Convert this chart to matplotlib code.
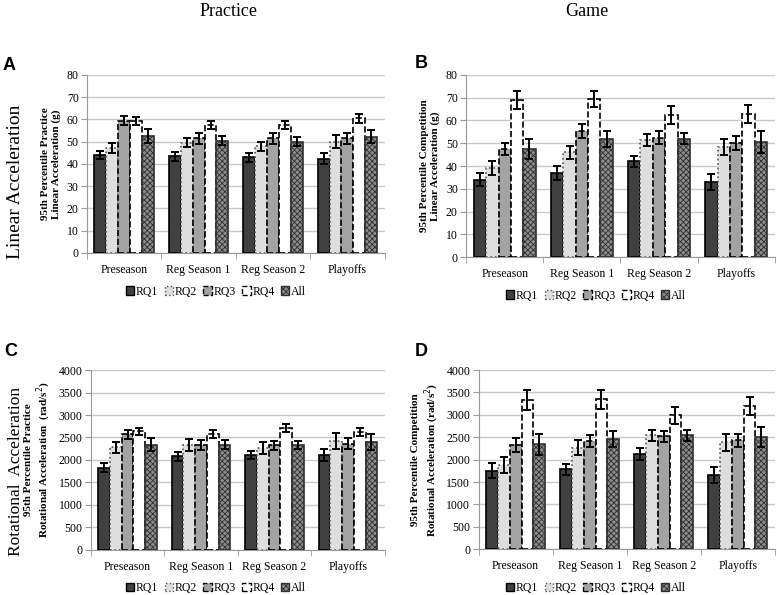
import matplotlib.pyplot as plt
import matplotlib.patches as mpatches
import numpy as np

plt.rcParams['font.family'] = ['Liberation Serif', 'DejaVu Serif']
plt.rcParams['hatch.linewidth'] = 0.6

categories = ["Preseason", "Reg Season 1", "Reg Season 2", "Playoffs"]
groups = ["RQ1", "RQ2", "RQ3", "RQ4", "All"]

# linear acceleration (g), practice
lin_prac = [[44, 43.5, 43, 42.3],
            [47, 49.5, 48, 50],
            [59.5, 51.5, 51.5, 51.5],
            [59.5, 57.5, 57.5, 60.5],
            [52.5, 50.5, 50, 52.3]]
lin_prac_err = [[2, 2, 2, 2.5],
                [2.3, 2, 2, 3],
                [2, 2.5, 2.5, 2.5],
                [1.8, 2, 2, 2],
                [3, 2, 2, 3]]

# linear acceleration (g), game
lin_game = [[34, 37, 42, 33],
            [39, 46, 51.5, 48.5],
            [47.5, 55.5, 52.5, 50],
            [69, 69.5, 62.5, 63],
            [47.5, 52, 52, 50.5]]
lin_game_err = [[3, 3, 2.5, 3.5],
                [3, 3, 2.5, 3.5],
                [2.5, 3, 3, 3],
                [4, 3.5, 4, 4],
                [4.5, 3.5, 2.5, 5]]

# rotational acceleration (rad/s^2), practice
rot_prac = [[1830, 2080, 2110, 2110],
            [2280, 2340, 2270, 2420],
            [2570, 2340, 2330, 2360],
            [2640, 2580, 2710, 2620],
            [2340, 2340, 2340, 2400]]
rot_prac_err = [[100, 100, 100, 130],
                [120, 130, 130, 170],
                [100, 110, 100, 120],
                [80, 90, 90, 90],
                [140, 100, 90, 170]]

# rotational acceleration (rad/s^2), game
rot_game = [[1755, 1780, 2130, 1650],
            [1880, 2270, 2540, 2390],
            [2330, 2410, 2520, 2430],
            [3330, 3350, 2990, 3190],
            [2340, 2460, 2540, 2500]]
rot_game_err = [[160, 120, 140, 180],
                [170, 170, 130, 190],
                [150, 130, 130, 150],
                [220, 210, 190, 200],
                [230, 170, 130, 220]]

styles = [
    dict(facecolor='#404040', edgecolor='black', linestyle='-'),
    dict(facecolor='#dedede', edgecolor='#555555', linestyle=':'),
    dict(facecolor='#a3a3a3', edgecolor='black', linestyle='--'),
    dict(facecolor='white', edgecolor='black', linestyle='--'),
    dict(facecolor='#8c8c8c', edgecolor='#303030', linestyle='-', hatch='xxxxxx'),
]

W, H = 777, 595
fig = plt.figure(figsize=(W / 100, H / 100), dpi=100)


def panel(rect, vals, errs, ymax, ystep, ylabel, letter, letter_xy, legx):
    ax = fig.add_axes(rect)
    x = np.arange(len(categories))
    w = 0.16
    for i, g in enumerate(groups):
        pos = x + (i - 2) * w
        ax.bar(pos, vals[i], w, linewidth=1.2, label=g, zorder=3, **styles[i])
        ax.errorbar(pos, vals[i], yerr=errs[i], fmt='none', ecolor='black',
                    elinewidth=1.4, capsize=3, capthick=1.4, zorder=4)
    ax.set_xlim(-0.5, len(categories) - 0.5)
    ax.set_ylim(0, ymax)
    ax.set_yticks(np.arange(0, ymax + 1, ystep))
    ax.yaxis.grid(True, color='#c8c8c8', linewidth=1)
    ax.set_axisbelow(True)
    ax.set_xticks(x)
    ax.set_xticklabels(categories, fontsize=8.5)
    ax.set_xticks(np.arange(-0.5, len(categories)), minor=True)
    ax.tick_params(axis='x', which='major', length=0, pad=8)
    ax.tick_params(axis='x', which='minor', length=4, color='#999999')
    ax.tick_params(axis='y', labelsize=8.5, length=4, color='#999999', pad=2)
    for s in ['top', 'right']:
        ax.spines[s].set_visible(False)
    for s in ['left', 'bottom']:
        ax.spines[s].set_color('#999999')
    ax.set_ylabel(ylabel, fontsize=8, fontweight='bold', labelpad=4)
    handles = [mpatches.Patch(label=g, linewidth=1.0, **styles[i])
               for i, g in enumerate(groups)]
    fig.legend(handles=handles, loc='center', ncol=5, frameon=False,
               bbox_to_anchor=(legx, rect[1] - 0.065), fontsize=8.5,
               handlelength=0.7, handleheight=0.7, handletextpad=0.15,
               columnspacing=0.55, borderpad=0)
    fig.text(letter_xy[0] / W, 1 - letter_xy[1] / H, letter,
             family='Liberation Sans', fontweight='bold', fontsize=13,
             va='top', ha='left')
    return ax


panel([0.112, 0.575, 0.383, 0.299], lin_prac, lin_prac_err, 80, 10,
      "95th Percentile Practice\nLinear Acceleration (g)", "A", (3, 57), 216 / W)
panel([0.600, 0.568, 0.397, 0.306], lin_game, lin_game_err, 80, 10,
      "95th Percentile Competition\nLinear Acceleration (g)", "B", (415, 55), 596 / W)
panel([0.117, 0.076, 0.378, 0.302], rot_prac, rot_prac_err, 4000, 500,
      "95th Percentile Practice\nRotational Acceleration  (rad/s$^2$)", "C", (4, 343), 216 / W)
panel([0.616, 0.077, 0.381, 0.301], rot_game, rot_game_err, 4000, 500,
      "95th Percentile Competition\nRotational Acceleration (rad/s$^2$)", "D", (415, 343), 596 / W)

fig.text(229 / W, 1 - 12 / H, "Practice", fontsize=13, ha='center', va='center')
fig.text(587 / W, 1 - 12 / H, "Game", fontsize=13, ha='center', va='center')
fig.text(16 / W, 1 - 182 / H, "Linear Acceleration", fontsize=14,
         rotation=90, ha='center', va='center')
fig.text(16 / W, 1 - 471 / H, "Rotational  Acceleration", fontsize=12.5,
         rotation=90, ha='center', va='center')

fig.savefig("out.png", dpi=100)
